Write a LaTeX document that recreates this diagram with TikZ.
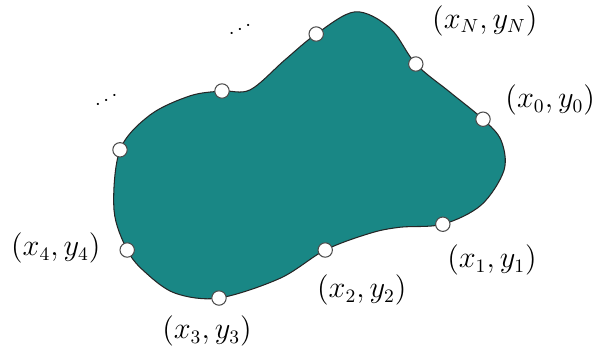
\documentclass[tikz,border=0pt]{standalone}
\usepackage{amsmath,amssymb}
\usepackage{tikz}
\usetikzlibrary{positioning,calc}
\usepackage{xcolor}
\definecolor{blobteal}{RGB}{25,135,133}

\begin{document}
\begin{tikzpicture}[
    vertex/.style={circle, draw=black!70, fill=white, inner sep=0pt, minimum size=0.24cm, line width=0.5pt},
    lbl/.style={font=\fontsize{13.5}{16}\selectfont, inner sep=1pt}
]
    \useasboundingbox (0,0) rectangle (10,5.967);

    % Closed shape
    \draw[fill=blobteal, draw=black!85, line width=0.5pt] plot[smooth cycle, tension=0.55] coordinates {
        (8.05,3.98) (8.35,3.63) (8.40,3.13) (8.02,2.55) (7.38,2.23) (6.67,2.18)
        (6.17,2.08) (5.42,1.80) (4.67,1.33) (3.65,1.00) (2.92,1.08) (2.42,1.43)
        (2.12,1.80) (1.90,2.47) (2.00,3.47) (2.50,4.05) (3.17,4.37) (3.70,4.45)
        (4.17,4.47) (4.75,4.97) (5.27,5.40) (5.92,5.77) (6.50,5.50) (6.93,4.90)
        (7.50,4.43)};

    % Sample points
    \node[vertex] (p0) at (8.05,3.98) {};
    \node[vertex] (pN) at (6.93,4.90) {};
    \node[vertex] (pa) at (5.27,5.40) {};
    \node[vertex] (pb) at (3.70,4.45) {};
    \node[vertex] (pc) at (2.00,3.47) {};
    \node[vertex] (p4) at (2.12,1.80) {};
    \node[vertex] (p3) at (3.65,1.00) {};
    \node[vertex] (p2) at (5.42,1.80) {};
    \node[vertex] (p1) at (7.38,2.23) {};

    % Labels
    \node[lbl] (lN) at (8.08,5.62) {$(x_N, y_N)$};
    \node[lbl] (l0) at (9.17,4.30) {$(x_0, y_0)$};
    \node[lbl] (l1) at (8.20,1.63) {$(x_1, y_1)$};
    \node[lbl] (l2) at (6.03,1.13) {$(x_2, y_2)$};
    \node[lbl] (l3) at (3.45,0.45) {$(x_3, y_3)$};
    \node[lbl] (l4) at (0.93,1.83) {$(x_4, y_4)$};

    % Dots
    \node[rotate=28] (da) at (4.03,5.48) {$\cdots$};
    \node[rotate=28] (db) at (1.80,4.30) {$\cdots$};
\end{tikzpicture}
\end{document}
